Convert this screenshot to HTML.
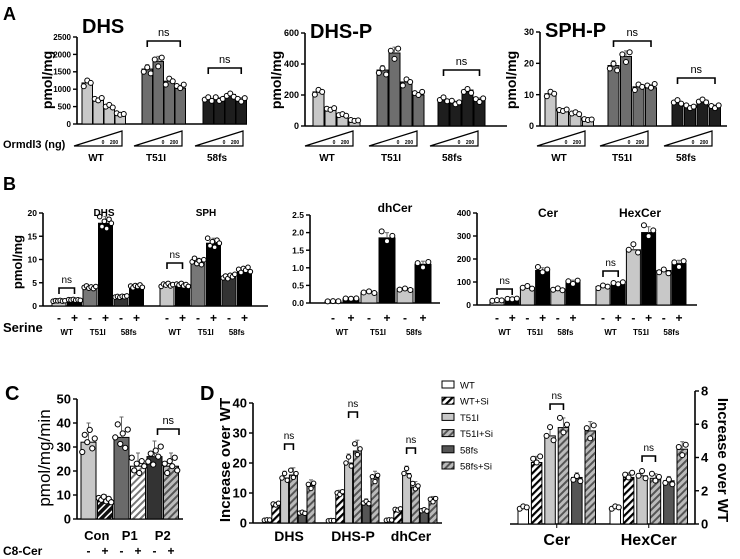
<!DOCTYPE html>
<html><head><meta charset="utf-8">
<style>
html,body{margin:0;padding:0;background:#fff;}
svg{display:block;font-family:"Liberation Sans",Arial,sans-serif;}
</style></head>
<body>
<svg id="fig" width="740" height="559" viewBox="0 0 740 559" xmlns="http://www.w3.org/2000/svg">
<defs>
<pattern id="hBW" patternUnits="userSpaceOnUse" width="5" height="5" patternTransform="rotate(45)"><rect width="5" height="5" fill="#fff"/><rect width="2.2" height="5" fill="#000"/></pattern>
<pattern id="hBlk" patternUnits="userSpaceOnUse" width="5" height="5" patternTransform="rotate(45)"><rect width="5" height="5" fill="#111"/><rect width="1.5" height="5" fill="#fff"/></pattern>
<pattern id="hWG" patternUnits="userSpaceOnUse" width="5" height="5" patternTransform="rotate(45)"><rect width="5" height="5" fill="#fff"/><rect width="2" height="5" fill="#777"/></pattern>
<pattern id="hG" patternUnits="userSpaceOnUse" width="5" height="5" patternTransform="rotate(45)"><rect width="5" height="5" fill="#bbb"/><rect width="2" height="5" fill="#555"/></pattern>
</defs>
</svg>
<script>
// ---------- data ----------
const aGroups=['WT','T51I','58fs'];
const aDHS=[1180,680,500,280,1580,1800,1230,1030,700,700,850,700];
const aDHSP=[220,105,70,35,361,471,284,200,168,148,232,168];
const aSPHP=[10.3,4.8,4,2,19.3,22.2,12.5,12.2,7.5,6,8.2,6.2];
const aTicksDHS=[0,500,1000,1500,2000,2500];
const aTicksDHSP=[0,200,400,600];
const aTicksSPHP=[0,10,20,30];
const bGroups=['WT','T51I','58fs'];
const bSerine=['-','+','-','+','-','+'];
const bDHS=[1.1,1.3,4,17.8,2,4.2];
const bSPH=[4.5,4.5,9.5,13.5,6.3,7.7];
const bDhCer=[0.05,0.12,0.3,1.85,0.4,1.1];
const bCer=[20,25,75,150,70,100];
const bHexCer=[80,90,240,315,150,180];
const bTicks1=[0,5,10,15,20];
const bTicks2=[0,0.5,1,1.5,2,2.5];
const bTicks3=[0,100,200,300,400];
const cCats=['Con','P1','P2'];
const cC8=['-','+','-','+','-','+'];
const cVals=[32,8,34,22,26,22];
const cTicks=[0,10,20,30,40,50];
const dSeries=['WT','WT+Si','T51I','T51I+Si','58fs','58fs+Si'];
const dLeftCats=['DHS','DHS-P','dhCer'];
const dDHS=[1,6,15,16,3.5,12.5];
const dDHSP=[0.8,9.5,20,24,7,15];
const dDhCer=[1,4.3,16.5,12,4.3,7.7];
const dRightCats=['Cer','HexCer'];
const dCer=[1,3.7,5.3,5.8,2.8,5.6];
const dHexCer=[1,2.8,2.9,2.75,2.6,4.5];
const dTicksL=[0,10,20,30,40];
const dTicksR=[0,2,4,6,8];

// ---------- helpers ----------
const NS='http://www.w3.org/2000/svg';
const svg=document.getElementById('fig');
function mk(tag,at,parent){const e=document.createElementNS(NS,tag);for(const k in at)e.setAttribute(k,at[k]);(parent||svg).appendChild(e);return e;}
function T(x,y,s,size,o){o=o||{};const e=mk('text',{x:x,y:y,'font-size':size,'font-weight':o.w||'bold','text-anchor':o.a||'start',fill:'#000'});if(o.rot!==undefined)e.setAttribute('transform','rotate('+o.rot+' '+x+' '+y+')');e.textContent=s;return e;}
const spread=[-0.08,0.06,0.0,0.1,-0.05,0.03];
function panel(p){
  const g=mk('g',{});
  
  
  const sy=v=>p.zero-v/p.max*(p.zero-p.top);
  const ax=mk('line',{x1:p.ax,y1:p.zero,x2:p.ax,y2:p.top,stroke:'#000','stroke-width':1.6},g);
  
  
  const bl=mk('line',{x1:p.x0!==undefined?p.x0:p.ax,y1:p.zero,x2:p.end,y2:p.zero,stroke:'#000','stroke-width':1.6},g);
  
  
  const dir=p.right?1:-1;
  p.ticks.forEach(t=>{
    const y=sy(t);
    mk('line',{x1:p.ax,y1:y,x2:p.ax+dir*4,y2:y,stroke:'#000','stroke-width':1.4},g);
    const lb=T(p.ax+dir*6,y+p.fs*0.36,p.fmt?p.fmt(t):String(t),p.fs,{a:p.right?'start':'end'});
    
    
  });
  p.vals.forEach((v,i)=>{
    const x=p.lefts[Math.floor(i/p.per)]+(i%p.per)*p.step;
    const y=sy(v);
    const r=mk('rect',{x:x,y:y,width:p.w,height:p.zero-y,fill:p.fills[i%p.fills.length],stroke:'#000','stroke-width':1},g);
    
    
    const cx=x+p.w/2;
    const n=p.n||3;
    const err=(p.err||0.08)*v;
    mk('line',{x1:cx,y1:y,x2:cx,y2:sy(v+err),stroke:'#666','stroke-width':1},g);
    mk('line',{x1:cx-2,y1:sy(v+err),x2:cx+2,y2:sy(v+err),stroke:'#666','stroke-width':1},g);
    for(let k=0;k<n;k++){
      const px=x+p.w*(k+0.5)/n;
      const pv=v*(1+spread[(k+i)%spread.length]*(p.sp||1));
      const c=mk('circle',{cx:px,cy:sy(pv),r:p.pr||2.6,fill:'#fff',stroke:'#000','stroke-width':1},g);
      
      
    }
  });
  return {sy:sy,barX:i=>p.lefts[Math.floor(i/p.per)]+(i%p.per)*p.step+p.w/2};
}
function ns(x1,x2,y,label){
  mk('path',{d:'M'+x1+' '+(y+6)+'V'+y+'H'+x2+'V'+(y+6),fill:'none',stroke:'#000','stroke-width':1.6});
  const t=T((x1+x2)/2,y-5,'ns',label||10,{w:'normal',a:'middle'});
  
  
}

// ---------- Panel A ----------
T(3,20,'A',18);
const cA=['#c8c8c8','#c8c8c8','#c8c8c8','#c8c8c8','#6e6e6e','#6e6e6e','#6e6e6e','#6e6e6e','#1e1e1e','#1e1e1e','#1e1e1e','#1e1e1e'];
const A1=panel({name:'panel-a-dhs',ax:77,end:247,zero:124,top:37,max:2500,ticks:aTicksDHS,fs:8,vals:aDHS,lefts:[82,142,203],per:4,step:11,w:10.5,fills:cA,pr:2.5});
const A2=panel({name:'panel-a-dhsp',ax:305,end:507,zero:126,top:33,max:600,ticks:aTicksDHSP,fs:9,vals:aDHSP,lefts:[313,377,438],per:4,step:12,w:11,fills:cA,pr:2.5});
const A3=panel({name:'panel-a-sphp',ax:540,end:727,zero:126,top:32,max:30,ticks:aTicksSPHP,fs:9,vals:aSPHP,lefts:[545,608,672],per:4,step:12.5,w:11,fills:cA,pr:2.5});
T(82,33,'DHS',20);T(310,38,'DHS-P',20);T(545,37,'SPH-P',20);
T(52,80,'pmol/mg',14,{a:'middle',rot:-90});
T(281,80,'pmol/mg',14,{a:'middle',rot:-90});
T(516,80,'pmol/mg',14,{a:'middle',rot:-90});
ns(A1.barX(4),A1.barX(7),41,11);ns(A1.barX(8),A1.barX(11),68,11);
ns(A2.barX(8),A2.barX(11),70,11);
ns(A3.barX(4),A3.barX(7),41,11);ns(A3.barX(8),A3.barX(11),78,11);
T(3,148,'Ormdl3 (ng)',11);
[[82,142,203],[313,377,438],[545,608,672]].forEach(ls=>ls.forEach((l,gi)=>{
  const x0=l-8,x1=l+40;
  const tr=mk('path',{d:'M'+x0+' 146L'+x1+' 131V146Z',fill:'#fff',stroke:'#000','stroke-width':1.2});
  
  
  T(x0+29,144,'0',5,{a:'middle'});T(x0+40,144,'200',5,{a:'middle'});
  const gl=T(l+14,161,aGroups[gi],10,{a:'middle'});
  
  
}));

// ---------- Panel B ----------
T(3,190,'B',18);
const cB1=['#c8c8c8','#000','#777','#000','#333','#000'];
const cB2=['#c8c8c8','#000','#c8c8c8','#000','#c8c8c8','#000'];
const B1=panel({name:'panel-b-dhs-sph',ax:43,end:268,zero:306,top:213,max:20,ticks:bTicks1,fs:8.5,vals:bDHS.concat(bSPH),lefts:[52,160],per:6,step:15.5,w:14,fills:cB1,n:6,sp:0.8,pr:2.3});
const B2=panel({name:'panel-b-dhcer',ax:310,end:440,zero:303,top:215,max:2.5,ticks:bTicks2,fs:8.5,fmt:t=>t.toFixed(1),vals:bDhCer,lefts:[325],per:6,step:18,w:16,fills:cB2,pr:2.5});
const B3=panel({name:'panel-b-cer-hexcer',ax:477,end:697,zero:305,top:213,max:400,ticks:bTicks3,fs:8.5,vals:bCer.concat(bHexCer),lefts:[490,596],per:6,step:15.2,w:14,fills:cB2,pr:2.5});
T(104,216,'DHS',10,{a:'middle'});T(206,216,'SPH',10,{a:'middle'});
T(395,212,'dhCer',12,{a:'middle'});T(548,217,'Cer',12,{a:'middle'});T(640,217,'HexCer',12,{a:'middle'});
T(22,262,'pmol/mg',13,{a:'middle',rot:-90});
ns(B1.barX(0),B1.barX(1),288);ns(B1.barX(6),B1.barX(7),263);
ns(B3.barX(0),B3.barX(1),289);ns(B3.barX(6),B3.barX(7),271);
T(3,332,'Serine',13);
[[B1,0],[B1,6],[B2,0],[B3,0],[B3,6]].forEach(([P,o])=>{
  for(let i=0;i<6;i++){const s=T(P.barX(o+i),322,bSerine[i],12,{a:'middle'});}
  for(let gi=0;gi<3;gi++){T((P.barX(o+gi*2)+P.barX(o+gi*2+1))/2,335,bGroups[gi],8,{a:'middle'});}
});

// ---------- Panel C ----------
T(5,400,'C',20);
const C=panel({name:'panel-c',ax:77,end:183,zero:519,top:399,max:50,ticks:cTicks,fs:13,vals:cVals,lefts:[81],per:6,step:16.5,w:15,fills:['#c8c8c8','url(#hBlk)','#6a6a6a','url(#hWG)','#333','url(#hG)'],n:6,sp:1.6,pr:2.6,err:0.25});
T(50,458,'pmol/mg/min',17,{a:'middle',rot:-90,w:'normal'});
ns(C.barX(4)+3,C.barX(5)+8,429,11);
for(let gi=0;gi<3;gi++){const l=T((C.barX(gi*2)+C.barX(gi*2+1))/2,540,cCats[gi],13,{a:'middle'});}
T(3,555,'C8-Cer',12);
for(let i=0;i<6;i++){T(C.barX(i),555,cC8[i],12,{a:'middle'});}

// ---------- Panel D ----------
T(200,400,'D',20);
const dFills=['#fff','url(#hBW)','#c8c8c8','url(#hG)','#555','url(#hG)'];
const DL=panel({name:'panel-d-left',ax:253,end:442,zero:523,top:403,max:40,ticks:dTicksL,fs:13,vals:dDHS.concat(dDHSP,dDhCer),lefts:[263,327,385],per:6,step:8.8,w:8,fills:dFills,pr:2.2,err:0.15});
const DR=panel({name:'panel-d-right',ax:695,x0:510,end:695,right:true,zero:524,top:391,max:8,ticks:dTicksR,fs:13,vals:dCer.concat(dHexCer),lefts:[518,610],per:6,step:13.4,w:10.5,fills:dFills,pr:2.5,err:0.1});
T(230,460,'Increase over WT',15,{a:'middle',rot:-90});
T(718,460,'Increase over WT',15,{a:'middle',rot:90});
ns(DL.barX(2),DL.barX(3),444,10);ns(DL.barX(8),DL.barX(9),412,10);ns(DL.barX(14),DL.barX(15),448,10);
ns(DR.barX(2),DR.barX(3),404,10);ns(DR.barX(8),DR.barX(9),456,10);
[[DL,0],[DL,6],[DL,12]].forEach(([P,o],gi)=>{const l=T((P.barX(o)+P.barX(o+5))/2,541,dLeftCats[gi],14,{a:'middle'});});
[[DR,0],[DR,6]].forEach(([P,o],gi)=>{const l=T((P.barX(o)+P.barX(o+5))/2,545,dRightCats[gi],16,{a:'middle'});mk('line',{x1:(P.barX(o)+P.barX(o+5))/2,y1:524,x2:(P.barX(o)+P.barX(o+5))/2,y2:528,stroke:'#000'});});
dSeries.forEach((s,i)=>{
  const y=385+i*16.2;
  const b=mk('rect',{x:442,y:y-4,width:12,height:7,fill:dFills[i],stroke:'#000','stroke-width':1});
  
  
  const t=T(460,y+3.5,s,9.5,{w:'normal'});
  
  
});
</script>
</body></html>
